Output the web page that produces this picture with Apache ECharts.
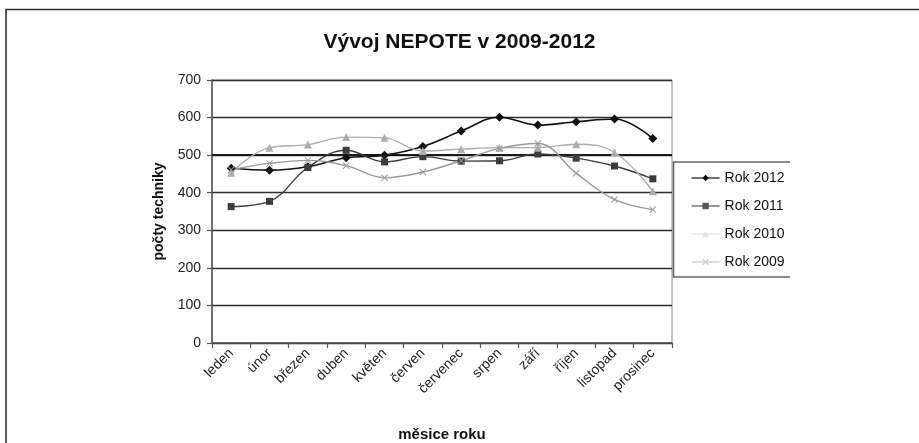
<!DOCTYPE html>
<html>
<head>
<meta charset="utf-8">
<script src="https://cdn.jsdelivr.net/npm/echarts@6/dist/echarts.min.js"></script>
<style>
  html, body { margin: 0; padding: 0; background: #fff; }
  #chart { width: 919px; height: 443px; }
</style>
</head>
<body>
<div id="chart"></div>
<script>
// Měsíce a počty techniky za jednotlivé roky
var months = ['leden', 'únor', 'březen', 'duben', 'květen', 'červen', 'červenec', 'srpen', 'září', 'říjen', 'listopad', 'prosinec'];
var rok2012 = [465, 460, 469, 493, 500, 523, 564, 601, 580, 589, 596, 544];
var rok2011 = [363, 377, 467, 513, 482, 496, 484, 485, 503, 492, 471, 437];
var rok2010 = [453, 520, 528, 548, 546, 511, 516, 520, 520, 529, 507, 404];
var rok2009 = [461, 478, 486, 472, 440, 455, 485, 518, 531, 452, 382, 355];
var yTicks = { min: 0, max: 700, interval: 100 };

var font = 'Liberation Sans, Arial, sans-serif';
var crossSymbol = 'path://M0,1L1,0L5,4L9,0L10,1L6,5L10,9L9,10L5,6L1,10L0,9L4,5Z';

function lineSeries(name, data, color, symbol, size, width) {
  return {
    name: name,
    type: 'line',
    data: data,
    smooth: 0.4,
    symbol: symbol,
    symbolSize: size,
    showSymbol: true,
    lineStyle: { color: color, width: width },
    itemStyle: { color: color, borderColor: color, borderWidth: 0 },
    emphasis: { disabled: true }
  };
}

var series = [
  lineSeries('Rok 2012', rok2012, '#111111', 'diamond', 9, 1.6),
  lineSeries('Rok 2011', rok2011, '#3c3c3c', 'rect', 7, 1.4),
  lineSeries('Rok 2010', rok2010, '#adadad', 'triangle', 8, 1.4),
  lineSeries('Rok 2009', rok2009, '#9a9a9a', crossSymbol, 7, 1.4)
];
// zvýrazněná mřížka na hodnotě 500
series[0].markLine = {
  silent: true,
  symbol: 'none',
  label: { show: false },
  lineStyle: { color: '#1a1a1a', width: 2, type: 'solid' },
  data: [{ yAxis: 500 }],
  z: 1
};

// světlejší vzorky v legendě
function legendItem(name, color) {
  return { name: name, itemStyle: { color: color, borderWidth: 0 }, lineStyle: { color: color, width: 1.2 } };
}

var chart = echarts.init(document.getElementById('chart'), null, { renderer: 'canvas' });
chart.setOption({
  animation: false,
  backgroundColor: '#ffffff',
  title: {
    text: 'Vývoj NEPOTE v 2009-2012',
    left: 'center',
    top: 27,
    textStyle: { fontFamily: font, fontSize: 21, fontWeight: 'bold', color: '#111' }
  },
  grid: {
    left: 212, top: 80, right: 247, bottom: 100,
    containLabel: false, outerBoundsMode: 'none',
    show: true, borderColor: '#8a8a8a', borderWidth: 1
  },
  legend: {
    orient: 'vertical',
    left: 686,
    top: 166,
    itemWidth: 28,
    itemHeight: 8,
    itemGap: 14,
    textStyle: { fontFamily: font, fontSize: 14, color: '#111' },
    data: [
      legendItem('Rok 2012', '#111111'),
      legendItem('Rok 2011', '#555555'),
      legendItem('Rok 2010', '#e2e2e2'),
      legendItem('Rok 2009', '#c8c8c8')
    ]
  },
  xAxis: {
    type: 'category',
    data: months,
    boundaryGap: true,
    name: 'měsice roku',
    nameLocation: 'middle',
    nameGap: 84,
    nameTextStyle: { fontFamily: font, fontSize: 15, fontWeight: 'bold', color: '#111' },
    axisLine: { lineStyle: { color: '#555', width: 1.5 } },
    axisTick: { show: true, alignWithLabel: false, length: 5, lineStyle: { color: '#555', width: 1.2 } },
    axisLabel: { rotate: 45, interval: 0, margin: 8, fontFamily: font, fontSize: 14, color: '#222' },
    splitLine: { show: false }
  },
  yAxis: {
    type: 'value',
    min: yTicks.min,
    max: yTicks.max,
    interval: yTicks.interval,
    name: 'počty techniky',
    nameLocation: 'middle',
    nameGap: 46,
    nameTextStyle: { fontFamily: font, fontSize: 14, fontWeight: 'bold', color: '#111' },
    axisLine: { show: true, lineStyle: { color: '#555', width: 1.5 } },
    axisTick: { show: true, length: 5, lineStyle: { color: '#555', width: 1.2 } },
    axisLabel: { margin: 11, fontFamily: font, fontSize: 14, color: '#222' },
    splitLine: { show: true, lineStyle: { color: '#2e2e2e', width: 1.4 } }
  },
  graphic: [
    // rámeček obrázku (horní a levý okraj)
    { type: 'polyline', silent: true, shape: { points: [[6, 443], [6, 9.5], [919, 9.5]] },
      style: { stroke: '#333', lineWidth: 1.6, fill: null } },
    // rámeček legendy
    { type: 'polyline', silent: true, shape: { points: [[790, 162], [673.5, 162], [673.5, 277], [790, 277]] },
      style: { stroke: '#666', lineWidth: 1.6, fill: null } }
  ],
  series: series
});
</script>
</body>
</html>
